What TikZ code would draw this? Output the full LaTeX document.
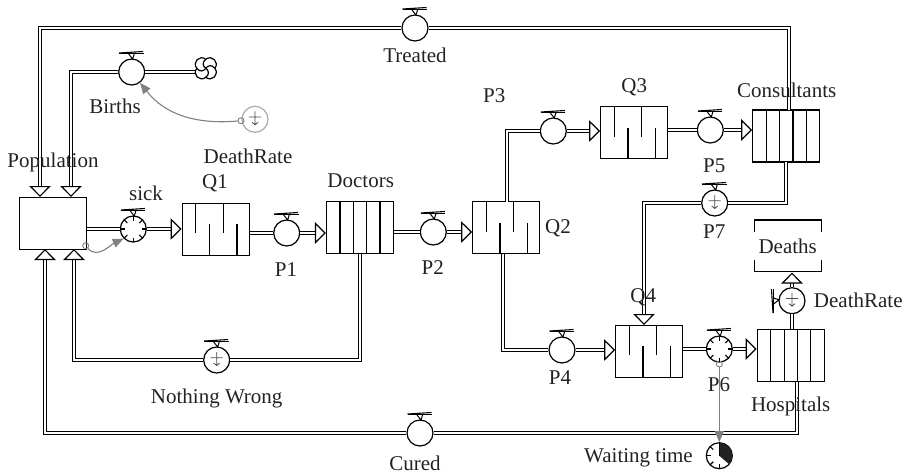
\documentclass[tikz,border=0pt]{standalone}
\usepackage{fontspec}
\setmainfont{Liberation Serif}
\usepackage{xcolor}
\usetikzlibrary{arrows.meta}
\definecolor{ink}{HTML}{222222}
\definecolor{linkgray}{HTML}{808080}
\definecolor{palegray}{HTML}{ABABAB}
\tikzset{
  lbl/.style={text=ink, inner sep=0pt, font=\fontsize{21}{21}\selectfont},
  store/.style={draw, line width=1.2pt, fill=white, minimum width=67pt, minimum height=52pt, inner sep=0pt},
  valve/.style={circle, draw, line width=1.2pt, fill=white, minimum size=26pt, inner sep=0pt},
  pipe/.style={draw, double, line width=1.1pt, double distance=1.9pt},
  flowin/.style={pipe, -{Triangle[fill=white, length=11pt, width=21.5pt, line width=1.2pt]}},
  infolink/.style={draw=linkgray, line width=1.1pt, -{Triangle[length=11pt, width=9pt, fill=linkgray]}},
  dot/.style={circle, draw=linkgray, line width=.9pt, fill=none, minimum size=6pt, inner sep=0pt},
  valvehandle/.pic={
    \draw[line width=1.5pt] (-12.5,-18.5) -- (12,-18.5);
    \draw[line width=1.1pt] (-12.5,-19) -- (11.5,-20.5);
    \draw[line width=1pt] (-3,-18) -- (1,-13) -- (2.5,-18);
  },
  ticks/.pic={
    \foreach \a in {0,45,...,315} \draw[line width=1.1pt] (\a:8.5) -- (\a:13);
  },
  ground/.pic={
    \draw[ink!80, line width=.8pt] (-6,-2.3) -- (6,-2.3) (0,-8) -- (0,5.5) (-3,3) -- (0,5.5) -- (3,3);
  },
  queuebars/.pic={
    \foreach \x in {-20,7.5} \draw[line width=1.2pt] (\x,-26) -- (\x,4);
    \foreach \x in {-6.2,21.2} \draw[line width=1.2pt] (\x,26) -- (\x,-5);
  },
  slats/.pic={
    \foreach \x in {-20,-6.7,6.7,20} \draw[line width=1.2pt] (\x,-26) -- (\x,26);
  },
  brackets/.pic={
    \draw[line width=1.2pt] (-33.5,-14.2) -- (-33.5,-25.9) -- (33.5,-25.9) -- (33.5,-14.2);
    \draw[line width=1.2pt] (-33.5,14.2) -- (-33.5,25.9) -- (33.5,25.9) -- (33.5,14.2);
  },
  swirl/.pic={
    \fill[white] (0,0) circle (10);
    \foreach \a in {0,90,180,270}
      \draw[line width=1.2pt, rotate=\a] (0,0) .. controls (-3,-2) and (-4,-6) .. (0,-9) .. controls (6,-14) and (14,-6) .. (9,0);
  },
  clockface/.pic={
    \fill[ink] (0,0) -- (0,-13) arc[start angle=90, end angle=-41, radius=13pt] -- cycle;
    \foreach \a in {90,135,180,225} \draw[line width=1.1pt] (\a:8.5) -- (\a:13);
    \draw[line width=1.1pt] (0,-13) -- (0,0);
  },
}
\begin{document}
\begin{tikzpicture}[x=1pt, y=-1pt]
\useasboundingbox (0,0) rectangle (906,475);
\node[store] (population) at (53,223.5) {};
\node[store] (q1) at (215.7,229.2) {};
\node[store] (doctors) at (360,227.5) {};
\node[store] (q2) at (506.2,227.7) {};
\node[store] (q3) at (634.2,132.8) {};
\node[store] (consultants) at (786.3,136) {};
\node[store] (q4) at (649.2,351.2) {};
\node[store] (hospitals) at (790.8,355.5) {};
\node[store, draw=none, fill=none] (deaths) at (787.8,245.9) {};
\node[valve] (births) at (131.7,72) {};
\node[valve] (treated) at (415,28) {};
\node[valve] (sick) at (133.3,229) {};
\node[valve] (p1) at (286.7,233) {};
\node[valve] (p2) at (433.3,232) {};
\node[valve] (p3) at (553.3,131) {};
\node[valve] (p4) at (562,350) {};
\node[valve] (p5) at (710.3,130) {};
\node[valve] (p6) at (719.3,349) {};
\node[valve] (p7) at (714.7,203) {};
\node[valve] (nothingwrong) at (216.7,360) {};
\node[valve] (cured) at (420,433) {};
\node[valve] (deathvalve) at (792,300.7) {};
\node[valve, draw=palegray] (deathrate) at (255,119.3) {};
\node[valve] (waiting) at (719.3,455.7) {};
\coordinate (cloud) at (205.8,68.3);
\coordinate (cloudin) at (195,72);
\coordinate (treatedin) at (40,197);
\coordinate (birthsin) at (71,197);
\coordinate (curedin) at (45,249);
\coordinate (wrongin) at (74,249);
\coordinate (q2up) at (507,201.7);
\coordinate (q2down) at (503,253.7);
\coordinate (consultantsup) at (789,110);
\coordinate (consultantsdown) at (786,162);
\coordinate (q4in) at (644,325);
\coordinate (hospitalsdown) at (797,381.5);
\node[dot] (sickdot) at (85.7,245.7) {};
\node[dot] (ratedot) at (241,120.7) {};
\node[dot] (p6dot) at (719.3,364) {};
\path[pipe] (treated.east) -| (consultantsup);
\path[flowin] (treated.west) -| (treatedin);
\path[pipe] (births.east) -- (cloudin);
\path[flowin] (births.west) -| (birthsin);
\path[pipe] (sick.west) -- (sick.west -| population.east);
\path[flowin] (sick.east) -- (sick.east -| q1.west);
\path[pipe] (q1.east |- p1.west) -- (p1.west);
\path[flowin] (p1.east) -- (p1.east -| doctors.west);
\path[pipe] (doctors.east |- p2.west) -- (p2.west);
\path[flowin] (p2.east) -- (p2.east -| q2.west);
\path[pipe] (q2up) |- (p3.west);
\path[flowin] (p3.east) -- (p3.east -| q3.west);
\path[pipe] (q3.east |- p5.west) -- (p5.west);
\path[flowin] (p5.east) -- (p5.east -| consultants.west);
\path[pipe] (q2down) |- (p4.west);
\path[flowin] (p4.east) -- (p4.east -| q4.west);
\path[pipe] (q4.east |- p6.west) -- (p6.west);
\path[flowin] (p6.east) -- (p6.east -| hospitals.west);
\path[pipe] (consultantsdown) |- (p7.east);
\path[flowin] (p7.west) -| (q4in);
\path[pipe] (doctors.south) |- (nothingwrong.east);
\path[flowin] (nothingwrong.west) -| (wrongin);
\path[pipe] (hospitalsdown) |- (cured.east);
\path[flowin] (cured.west) -| (curedin);
\path[pipe] (deathvalve.south) -- (deathvalve.south |- hospitals.north);
\path[flowin] (deathvalve.north) -- (deathvalve.north |- deaths.south);
\path[infolink] (sickdot) to[out=-50, in=205] (sick.225);
\path[infolink] (ratedot) to[out=185, in=-52] (births.-52);
\path[infolink] (p6dot) -- (waiting.north);
\foreach \v in {births,treated,sick,p1,p2,p3,p4,p5,p6,p7,nothingwrong,cured}
  \pic at (\v) {valvehandle};
\pic[rotate=90] at (deathvalve) {valvehandle};
\pic at (sick) {ticks};
\pic at (p6) {ticks};
\pic at (nothingwrong) {ground};
\pic at (p7) {ground};
\pic at (deathvalve) {ground};
\pic at (deathrate) {ground};
\pic at (q1) {queuebars};
\pic at (q2) {queuebars};
\pic at (q3) {queuebars};
\pic at (q4) {queuebars};
\pic at (doctors) {slats};
\pic at (consultants) {slats};
\pic at (hospitals) {slats};
\pic at (deaths) {brackets};
\pic at (cloud) {swirl};
\pic at (waiting) {clockface};
\node[lbl] (poplbl) at (53,162.5) {Population};
\node[lbl] (birthslbl) at (115,106) {Births};
\node[lbl] (treatedlbl) at (415,55) {Treated};
\node[lbl] (ratelbl) at (248,156) {DeathRate};
\node[lbl] (q1lbl) at (215,183) {Q1};
\node[lbl] (sicklbl) at (146,193) {sick};
\node[lbl] (p1lbl) at (286,270) {P1};
\node[lbl] (doctorslbl) at (360.7,181) {Doctors};
\node[lbl] (p2lbl) at (432.7,268) {P2};
\node[lbl] (q2lbl) at (558,228) {Q2};
\node[lbl] (p3lbl) at (494.3,96) {P3};
\node[lbl] (q3lbl) at (634.3,87) {Q3};
\node[lbl] (consultantslbl) at (786.7,90) {Consultants};
\node[lbl] (p5lbl) at (714.3,166) {P5};
\node[lbl] (p7lbl) at (714.3,232) {P7};
\node[lbl] (deathslbl) at (787.7,246) {Deaths};
\node[lbl] (deathratelbl) at (858.3,300) {DeathRate};
\node[lbl] (q4lbl) at (643.3,297.5) {Q4};
\node[lbl] (p4lbl) at (560,378) {P4};
\node[lbl] (p6lbl) at (719,385) {P6};
\node[lbl] (hospitalslbl) at (790.7,406) {Hospitals};
\node[lbl] (wronglbl) at (216.7,398) {Nothing Wrong};
\node[lbl] (curedlbl) at (415,463) {Cured};
\node[lbl] (waitinglbl) at (638.5,458) {Waiting time};
\end{tikzpicture}
\end{document}
